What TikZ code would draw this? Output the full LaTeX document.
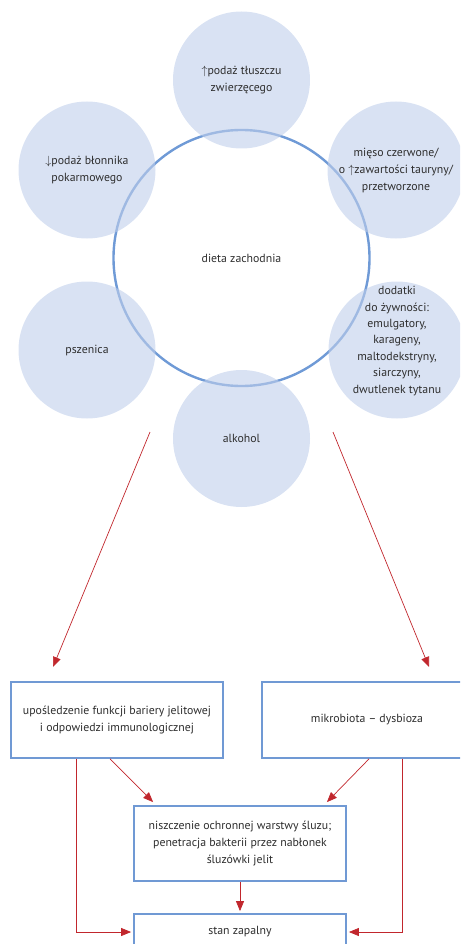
\documentclass[tikz,border=0pt]{standalone}
\usepackage{fontspec}
\setmainfont{PT Sans}
\usepackage{tikz}
\usetikzlibrary{arrows.meta}
\definecolor{ringblue}{HTML}{6F9AD6}
\definecolor{dotblue}{HTML}{C0CFEB}
\definecolor{boxblue}{HTML}{7099D4}
\definecolor{arrowred}{HTML}{C1272D}
\definecolor{textgrey}{HTML}{2E2E2E}
\tikzstyle{Ring}=[minimum size=256pt, draw=ringblue, line width=2.4pt, shape=circle, text=textgrey]
\tikzstyle{Factor}=[minimum size=137pt, fill=dotblue, fill opacity=0.6, text opacity=1, shape=circle, inner sep=0pt, align=center, text=textgrey]
\tikzstyle{Effect}=[minimum width=212pt, minimum height=76pt, fill=white, line width=1.8pt, draw=boxblue, align=center, text=textgrey]
\tikzstyle{arrow}=[line width=0.7pt, draw=arrowred]
\pgfdeclarelayer{ringlayer}
\pgfsetlayers{ringlayer,main}

\begin{document}
\begin{tikzpicture}[x=1pt, y=-1pt, >={Triangle[length=10pt, width=8pt]}, font=\fontsize{11.8pt}{17pt}\selectfont]
	\useasboundingbox (0, 0) rectangle (460, 944);
	\clip (0, 0) rectangle (460, 944);
	\begin{pgfonlayer}{ringlayer}
		\node [style=Ring] (diet) at (241.5, 258) {dieta zachodnia};
	\end{pgfonlayer}
	\node [style=Factor] (fat) at (241.5, 80) {$\uparrow$podaż tłuszczu\\zwierzęcego};
	\node [style=Factor] (fibre) at (87, 170) {$\downarrow$podaż błonnika\\pokarmowego};
	\node [style=Factor] (meat) at (396, 170) {mięso czerwone/\\o $\uparrow$zawartości tauryny/\\przetworzone};
	\node [style=Factor] (wheat) at (87, 350) {pszenica};
	\node [style=Factor, font=\fontsize{11.8pt}{16.4pt}\selectfont] (additives) at (397, 350) {\smash{\raisebox{6pt}{\parbox{100pt}{\centering dodatki\\do żywności:\\emulgatory,\\karageny,\\maltodekstryny,\\siarczyny,\\dwutlenek tytanu}}}};
	\node [style=Factor] (alcohol) at (241.5, 438.5) {alkohol};

	% boxes
	\node [style=Effect] (barrier) at (117, 720) {upośledzenie funkcji bariery jelitowej\\i odpowiedzi immunologicznej};
	\node [style=Effect, minimum width=210pt] (dysbiosis) at (367, 720) {mikrobiota – dysbioza};
	\node [style=Effect, minimum height=75pt] (mucus) at (240, 843.5) {niszczenie ochronnej warstwy śluzu;\\penetracja bakterii przez nabłonek\\śluzówki jelit};
	\node [style=Effect, minimum height=36pt] (inflam) at (240, 932) {stan zapalny};

	\coordinate (leftfrom) at (150, 432);
	\coordinate (leftto) at (53, 667);
	\coordinate (rightfrom) at (333, 432);
	\coordinate (rightto) at (429, 667);
	\draw [->, style=arrow] (leftfrom) to (leftto);
	\draw [->, style=arrow] (rightfrom) to (rightto);
	\draw [->, style=arrow] ([xshift=-7pt]barrier.south) to ([xshift=20pt, yshift=3pt]mucus.north west);
	\draw [->, style=arrow] ([xshift=2pt]dysbiosis.south) to ([xshift=-20pt, yshift=3pt]mucus.north east);
	\draw [->, style=arrow, shorten >=2pt] (mucus) to (inflam);
	\draw [->, style=arrow, shorten >=2pt] ([xshift=66pt]barrier.south west) |- (inflam.west);
	\draw [->, style=arrow, shorten >=2pt] ([xshift=141pt]dysbiosis.south west) |- (inflam.east);
\end{tikzpicture}
\end{document}
